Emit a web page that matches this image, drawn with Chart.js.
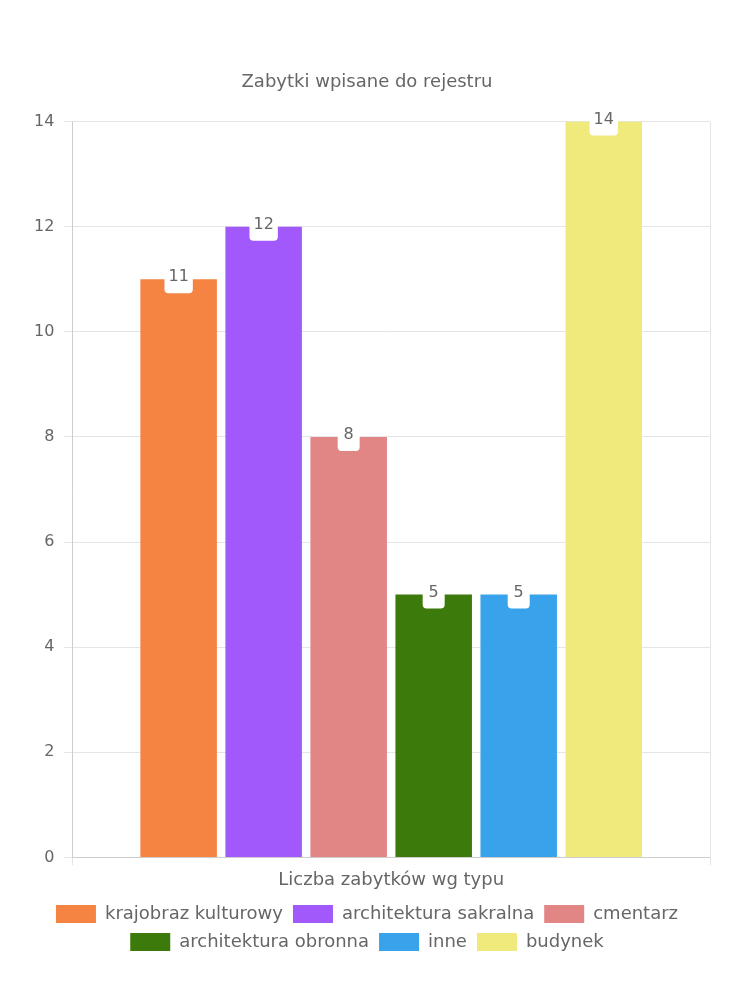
<!DOCTYPE html>
<html>
<head>
<meta charset="utf-8">
<script src="https://cdn.jsdelivr.net/npm/chart.js@4"></script>
<style>
  body { margin: 0; background: #fff; }
  #wrap { width: 750px; height: 1000px; }
</style>
</head>
<body>
<div id="wrap"><canvas id="barchart" width="750" height="1000"></canvas></div>
<script>
const category = ['Liczba zabytków wg typu'];
const seriesNames = ['krajobraz kulturowy', 'architektura sakralna', 'cmentarz', 'architektura obronna', 'inne', 'budynek'];
const seriesValues = [11, 12, 8, 5, 5, 14];
const seriesColors = ['#f58442', '#a259fc', '#e18585', '#3d7a0c', '#38a3eb', '#f0ea7c'];
const yTicks = [0, 2, 4, 6, 8, 10, 12, 14];

Chart.defaults.font.family = '"DejaVu Sans", "Noto Sans", sans-serif';
Chart.defaults.font.size = 16;
Chart.defaults.color = '#666';

// white rounded boxes with the value, centred on each bar top
const valueLabels = {
    id: 'valueLabels',
    afterDatasetsDraw(chart) {
        const c = chart.ctx;
        c.save();
        c.font = '16px ' + Chart.defaults.font.family;
        c.textAlign = 'center';
        c.textBaseline = 'middle';
        chart.data.datasets.forEach((ds, i) => {
            const bar = chart.getDatasetMeta(i).data[0];
            const txt = String(ds.data[0]);
            const w = Math.max(c.measureText(txt).width + 8, 22);
            const h = 26;
            c.fillStyle = '#fff';
            c.beginPath();
            c.roundRect(bar.x - w / 2, bar.y - h / 2 + 1, w, h, 4);
            c.fill();
            c.fillStyle = '#666';
            c.fillText(txt, bar.x, bar.y - 2);
        });
        c.restore();
    }
};

const ctx = document.getElementById('barchart').getContext('2d');
const myChart = new Chart(ctx, {
    type: 'bar',
    data: {
        labels: category,
        datasets: seriesNames.map((name, i) => ({
            label: name,
            data: [seriesValues[i]],
            backgroundColor: seriesColors[i],
            borderWidth: 0
        }))
    },
    options: {
        responsive: false,
        animation: false,
        layout: { padding: { top: 72, left: 24, right: 40, bottom: 39 } },
        plugins: {
            title: {
                display: true,
                text: 'Zabytki wpisane do rejestru',
                font: { size: 18, weight: 'normal' },
                padding: { top: 0, bottom: 28 }
            },
            legend: {
                position: 'bottom',
                labels: { boxWidth: 40, boxHeight: 18, padding: 10, font: { size: 18 } }
            },
            tooltip: { enabled: false }
        },
        scales: {
            x: {
                ticks: { padding: 4, font: { size: 18 } },
                grid: { color: '#e5e5e5' }
            },
            y: {
                min: 0,
                max: yTicks[yTicks.length - 1],
                ticks: { stepSize: 2, padding: 10 },
                grid: { color: '#e5e5e5' }
            }
        }
    },
    plugins: [valueLabels]
});
</script>
</body>
</html>
